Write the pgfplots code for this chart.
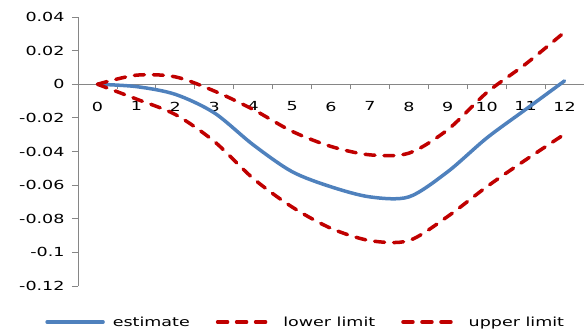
\documentclass[border=0pt]{standalone}
\usepackage{fontspec}
\setmainfont{DejaVu Sans}[FakeStretch=1.4]
\usepackage{pgfplots}
\pgfplotsset{compat=1.18}
\definecolor{exblue}{HTML}{4F81BD}
\definecolor{exred}{HTML}{C00000}
\definecolor{axgray}{HTML}{868686}
\begin{document}
\begin{tikzpicture}
\path[use as bounding box] (0,0) rectangle (584pt,333pt);
\begin{axis}[
  at={(78pt,47pt)}, anchor=south west,
  scale only axis, width=506pt, height=269pt,
  xmin=-0.5, xmax=12.5, ymin=-0.12, ymax=0.04,
  axis x line*=middle, axis y line*=left,
  axis line style={axgray, line width=0.8pt},
  xtick={0,1,2,3,4,5,6,7,8,9,10,11,12},
  xticklabels={0,1,2,3,4,5,6,7,8,9,10,11,12},
  minor xtick={0.5,1.5,2.5,3.5,4.5,5.5,6.5,7.5,8.5,9.5,10.5,11.5,12.5},
  major x tick style={draw=none},
  minor x tick style={axgray, line width=0.8pt},
  minor tick length=5pt,
  ytick={-0.12,-0.1,-0.08,-0.06,-0.04,-0.02,0,0.02,0.04},
  yticklabels={-0.12,-0.1,-0.08,-0.06,-0.04,-0.02,0,0.02,0.04},
  y tick style={axgray, line width=0.8pt},
  major tick length=6pt,
  tick align=outside,
  tick label style={font=\fontsize{12.5}{14}\selectfont, text=black},
  x tick label style={yshift=-8pt},
  y tick label style={xshift=-4pt},
  clip=false,
  legend columns=3,
  legend style={draw=none, fill=none, at={(0.45,-0.134)}, anchor=center,
    font=\fontsize{12.5}{14}\selectfont,
    /tikz/every odd column/.append style={column sep=6pt},
    /tikz/every even column/.append style={column sep=24pt}},
  legend image code/.code={\draw[#1] (0pt,0pt) -- (56pt,0pt);},
]
\addplot[exblue, line width=3.5pt, line cap=round, smooth] coordinates {
(0,0) (1,-0.0014) (2,-0.006) (3,-0.017) (4,-0.036) (5,-0.052) (6,-0.061)
(7,-0.067) (8,-0.067) (9,-0.052) (10,-0.032) (11,-0.015) (12,0.002)};
\addlegendentry{estimate}
\addplot[exred, line width=3.5pt, line cap=round, dash pattern=on 10pt off 9pt, smooth] coordinates {
(0,0) (1,-0.0088) (2,-0.018) (3,-0.034) (4,-0.056) (5,-0.073) (6,-0.0857)
(7,-0.093) (8,-0.093) (9,-0.0786) (10,-0.061) (11,-0.045) (12,-0.0297)};
\addlegendentry{lower limit}
\addplot[exred, line width=3.5pt, line cap=round, dash pattern=on 10pt off 9pt, smooth] coordinates {
(0,0) (1,0.0054) (2,0.0044) (3,-0.004) (4,-0.015) (5,-0.028) (6,-0.037)
(7,-0.042) (8,-0.041) (9,-0.027) (10,-0.005) (11,0.012) (12,0.031)};
\addlegendentry{upper limit}
\end{axis}
\end{tikzpicture}
\end{document}
